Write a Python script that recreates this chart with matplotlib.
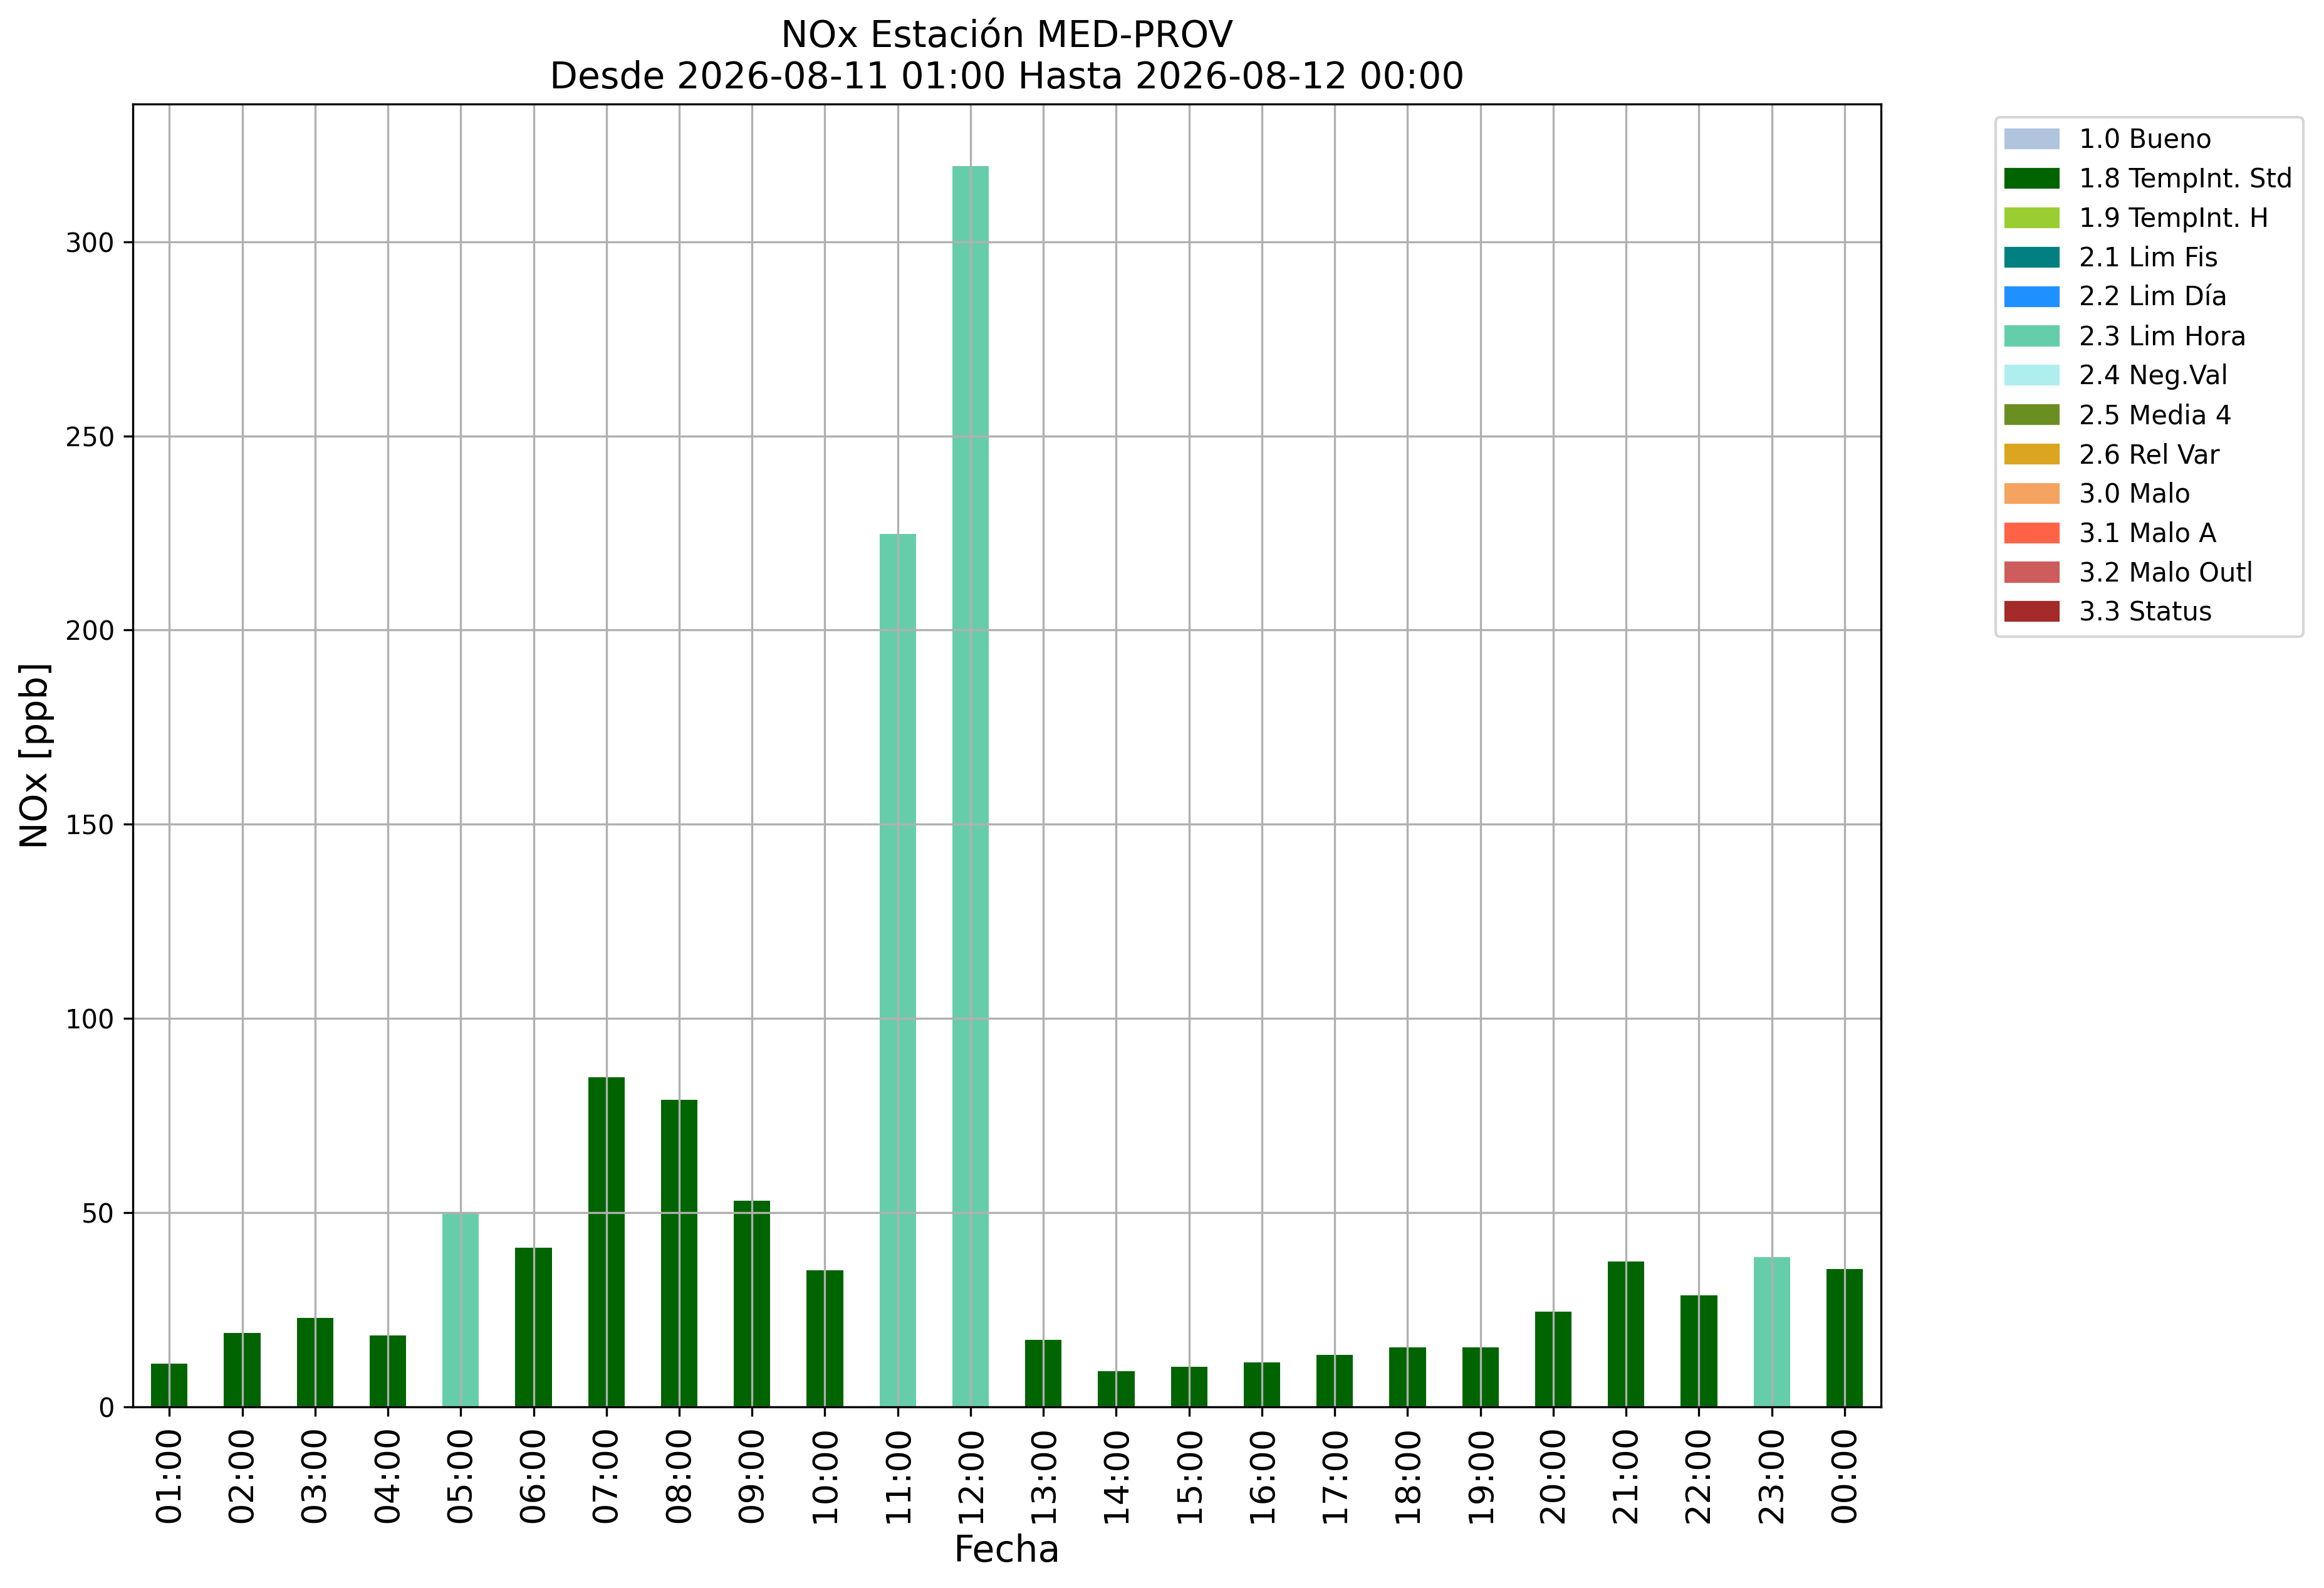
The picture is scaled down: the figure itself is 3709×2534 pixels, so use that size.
import numpy as np
import matplotlib
matplotlib.use('Agg')
import matplotlib.pyplot as plt
from matplotlib.patches import Patch

# hourly values
horas = ['01:00', '02:00', '03:00', '04:00', '05:00', '06:00', '07:00', '08:00',
         '09:00', '10:00', '11:00', '12:00', '13:00', '14:00', '15:00', '16:00',
         '17:00', '18:00', '19:00', '20:00', '21:00', '22:00', '23:00', '00:00']
nox = [11.1, 19.1, 22.9, 18.3, 49.7, 40.9, 84.8, 79.1, 53.1, 35.2, 224.7, 319.5,
       17.2, 9.2, 10.3, 11.5, 13.4, 15.3, 15.3, 24.5, 37.4, 28.7, 38.6, 35.5]
flags = ['1.8', '1.8', '1.8', '1.8', '2.3', '1.8', '1.8', '1.8', '1.8', '1.8', '2.3', '2.3',
         '1.8', '1.8', '1.8', '1.8', '1.8', '1.8', '1.8', '1.8', '1.8', '1.8', '2.3', '1.8']

# quality flag legend
flag_codes = ['1.0', '1.8', '1.9', '2.1', '2.2', '2.3', '2.4', '2.5', '2.6', '3.0', '3.1', '3.2', '3.3']
flag_names = ['Bueno', 'TempInt. Std', 'TempInt. H', 'Lim Fis', 'Lim Día', 'Lim Hora', 'Neg.Val',
              'Media 4', 'Rel Var', 'Malo', 'Malo A', 'Malo Outl', 'Status']
flag_colors = ['lightsteelblue', 'darkgreen', 'yellowgreen', 'teal', 'dodgerblue',
               'mediumaquamarine', 'paleturquoise', 'olivedrab', 'goldenrod',
               'sandybrown', 'tomato', 'indianred', 'brown']
color_map = dict(zip(flag_codes, flag_colors))

fig = plt.figure(figsize=(3709 / 300, 2534 / 300), dpi=300)
fig.subplots_adjust(left=0.0572, right=0.8094, top=0.9345, bottom=0.1141)
ax = fig.add_subplot(1, 1, 1)

x = np.arange(len(horas))
ax.bar(x, nox, width=0.5, color=[color_map[f] for f in flags])
ax.set_xlim(-0.5, len(horas) - 0.5)
ax.set_xticks(x)
ax.set_xticklabels(horas, rotation=90, fontsize=13)
ax.tick_params(axis='y', labelsize=10)
ax.grid(True)

ax.set_title('NOx Estación MED-PROV\nDesde 2026-08-11 01:00 Hasta 2026-08-12 00:00', fontsize=14)
ax.set_xlabel('Fecha', fontsize=14)
ax.set_ylabel('NOx [ppb]', fontsize=14)

handles = [Patch(color=c, label=f'{k} {n}') for k, n, c in zip(flag_codes, flag_names, flag_colors)]
ax.legend(handles=handles, loc='upper left', bbox_to_anchor=(1.058, 1), fontsize=10)

fig.savefig('out.png', dpi=300)
